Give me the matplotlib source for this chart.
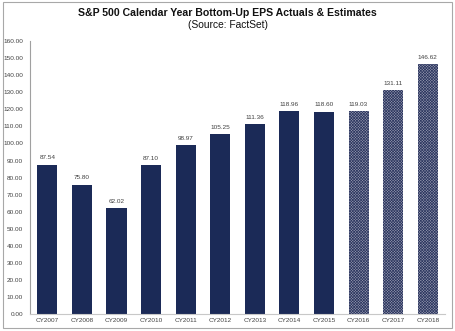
import matplotlib

matplotlib.use("Agg")
import matplotlib.pyplot as plt
from matplotlib.patches import Rectangle

years = ["CY2007", "CY2008", "CY2009", "CY2010", "CY2011", "CY2012",
         "CY2013", "CY2014", "CY2015", "CY2016", "CY2017", "CY2018"]
eps = [87.54, 75.80, 62.02, 87.10, 98.97, 105.25,
       111.36, 118.96, 118.60, 119.03, 131.11, 146.62]
is_estimate = [False] * 9 + [True] * 3

navy = "#1b2a57"
plt.rcParams["font.family"] = ["Liberation Sans", "DejaVu Sans"]
plt.rcParams["hatch.linewidth"] = 0.5

fig = plt.figure(figsize=(4.55, 3.31), dpi=100)
ax = fig.add_axes([0.066, 0.051, 0.912, 0.825])

x = range(len(years))
for i, (val, est) in enumerate(zip(eps, is_estimate)):
    if est:
        # estimates: fine navy checker pattern, reads as grey
        ax.bar(i, val, width=0.58, facecolor="#9597ad", edgecolor="#2c3760",
               hatch="xxxxxxxxxxxx", linewidth=0)
    else:
        ax.bar(i, val, width=0.58, color=navy, linewidth=0)
    ax.text(i, val + 2.5, f"{val:.2f}", ha="center", va="bottom",
            fontsize=4.6, color="#404040")

ax.set_xlim(-0.5, len(years) - 0.5)
ax.set_ylim(0, 160)
ax.set_yticks(range(0, 161, 10))
ax.set_yticklabels([f"{v:.2f}" for v in range(0, 161, 10)])
ax.set_xticks(list(x))
ax.set_xticklabels(years)
ax.tick_params(axis="both", labelsize=4.6, colors="#404040", length=0, pad=3)
ax.tick_params(axis="y", pad=5)

for side in ["top", "right"]:
    ax.spines[side].set_visible(False)
ax.spines["left"].set_color("#a0a0a0")
ax.spines["bottom"].set_color("#c8c8c8")
ax.spines["left"].set_linewidth(0.8)
ax.spines["bottom"].set_linewidth(0.8)

fig.text(0.5, 0.962, "S&P 500 Calendar Year Bottom-Up EPS Actuals & Estimates",
         ha="center", va="center", fontsize=7.6, fontweight="bold", color="#111111")
fig.text(0.5, 0.925, "(Source: FactSet)", ha="center", va="center",
         fontsize=7.4, color="#111111")

fig.patches.append(Rectangle((0.006, 0.008), 0.988, 0.985, transform=fig.transFigure,
                             fill=False, edgecolor="#a8a8a8", linewidth=0.8))

fig.savefig("out.png", dpi=100)
plt.close(fig)
